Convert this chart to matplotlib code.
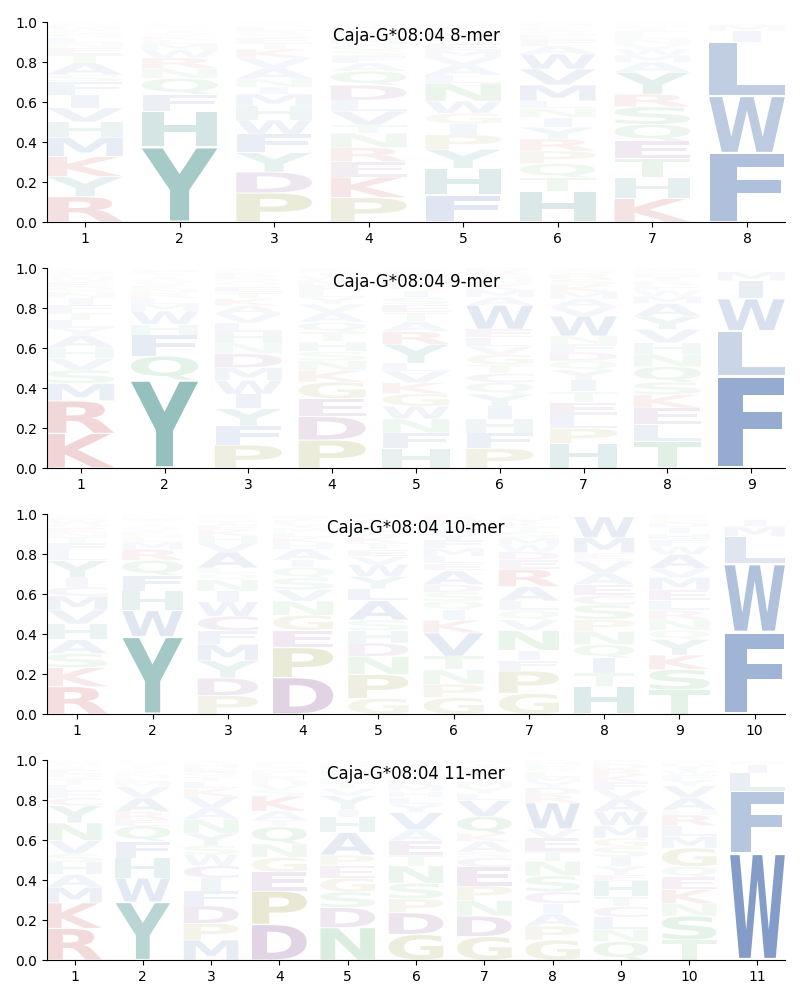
import matplotlib
matplotlib.use("Agg")
import matplotlib.pyplot as plt
from matplotlib.textpath import TextPath
from matplotlib.patches import PathPatch
from matplotlib.font_manager import FontProperties
from matplotlib.transforms import Affine2D

# ---------------- data (bottom -> top per position) ----------------
titles = ["Caja-G*08:04 8-mer", "Caja-G*08:04 9-mer",
          "Caja-G*08:04 10-mer", "Caja-G*08:04 11-mer"]

mer8_letters = [
    "RYKMHVIFSATENLQGWDPC",
    "YHFQNRWMLKVISTAEGPDC",
    "PDYFWHMINAVKTESRLGQC",
    "PKERNTVLDQAFSGHYMIWC",
    "FHYPIGWNLAVMESTQKDRC",
    "HTQPRYINLMVWAFESKGDC",
    "KHTEQSRYAMWVNLFIPGDC",
    "FWLIMYVACT",
]
mer8_values = [
    [.127, .10, .10, .097, .077, .07, .065, .065, .035, .06, .045, .03, .025, .025, .02, .015, .015, .012, .01, .007],
    [.375, .18, .083, .08, .05, .053, .04, .03, .02, .018, .015, .012, .01, .008, .007, .006, .005, .004, .002, .002],
    [.145, .105, .097, .093, .07, .07, .06, .035, .04, .055, .05, .045, .03, .025, .02, .015, .02, .01, .01, .005],
    [.122, .103, .077, .07, .072, .04, .07, .055, .075, .07, .04, .035, .03, .03, .03, .025, .02, .015, .012, .009],
    [.135, .133, .095, .073, .055, .053, .06, .09, .04, .05, .04, .035, .03, .025, .025, .02, .015, .012, .008, .006],
    [.155, .067, .07, .063, .06, .058, .05, .045, .037, .08, .08, .075, .04, .03, .025, .02, .015, .012, .01, .008],
    [.118, .105, .095, .087, .083, .088, .063, .11, .05, .035, .03, .025, .025, .02, .02, .015, .012, .008, .006, .005],
    [.345, .285, .27, .055, .03, .006, .004, .002, .002, .001],
]

mer9_letters = [
    "KRMSVHAYLTFINQEWGDPC",
    "YQFHWMLRNKVSITAEGDPC",
    "PFYIWMDNHLVAKTEQSRGC",
    "PDEGKNSHTQAVYLFMWIRC",
    "HFNWGKVLYRATESIQMDPC",
    "PFHIYQCTGVLEWAMKNSRD",
    "HPLETIYQDFNWVAMKSRGC",
    "TLEKSQNHVYAMWFRIDGPC",
    "FLWIMYVA",
]
mer9_values = [
    [.173, .163, .087, .067, .058, .053, .06, .04, .04, .035, .04, .035, .03, .025, .025, .02, .018, .012, .01, .009],
    [.44, .12, .105, .053, .067, .035, .03, .025, .02, .018, .015, .015, .012, .01, .01, .008, .006, .005, .004, .002],
    [.115, .095, .087, .072, .07, .063, .07, .053, .055, .047, .045, .04, .035, .03, .03, .025, .025, .018, .015, .01],
    [.14, .117, .09, .083, .057, .05, .045, .05, .047, .05, .05, .04, .035, .03, .03, .025, .02, .018, .015, .008],
    [.098, .078, .07, .063, .063, .055, .057, .04, .095, .063, .05, .045, .04, .035, .035, .03, .03, .025, .018, .01],
    [.098, .078, .07, .063, .06, .058, .045, .045, .05, .04, .045, .042, .12, .04, .035, .03, .025, .022, .02, .014],
    [.123, .075, .067, .063, .055, .057, .05, .045, .045, .04, .04, .10, .045, .04, .035, .035, .03, .025, .02, .01],
    [.135, .083, .082, .067, .062, .078, .062, .057, .067, .065, .065, .035, .03, .025, .02, .02, .015, .012, .012, .008],
    [.458, .228, .16, .09, .045, .008, .006, .003],
]

mer10_letters = [
    "RKSAHVMCIYLFTNEQWDGP",
    "YWHFQRMLNKVSITAEGDPC",
    "PDYMFCWINQLAVHKETSRG",
    "DPEGNVSQIAHKLMYFTRWC",
    "GPNDHSALYWVETKQFMIRC",
    "GPNTVKIQSDAELMFYWHRC",
    "GPFINVQLAREDWMSTKYHC",
    "HTIQNPSCEAVDFMWLYKGR",
    "TSKYQNRLEMVAWFHIDGPC",
    "FWLMIYV",
]
mer10_values = [
    [.137, .095, .07, .07, .078, .07, .07, .045, .045, .087, .047, .04, .03, .025, .022, .02, .018, .012, .01, .009],
    [.387, .13, .098, .078, .075, .055, .037, .02, .018, .015, .015, .012, .012, .01, .01, .008, .007, .005, .005, .003],
    [.092, .088, .087, .082, .067, .073, .072, .053, .058, .03, .028, .08, .045, .035, .03, .025, .02, .015, .012, .008],
    [.182, .15, .087, .075, .07, .058, .058, .053, .037, .055, .03, .028, .025, .022, .02, .018, .015, .01, .005, .002],
    [.078, .12, .09, .067, .062, .053, .097, .06, .06, .06, .04, .035, .035, .03, .03, .025, .022, .018, .012, .006],
    [.082, .067, .073, .067, .117, .063, .05, .045, .045, .038, .07, .035, .037, .04, .04, .035, .035, .03, .02, .011],
    [.103, .112, .053, .05, .10, .053, .047, .047, .072, .087, .047, .04, .035, .035, .03, .025, .02, .02, .015, .009],
    [.14, .066, .074, .066, .067, .059, .074, .047, .054, .058, .059, .017, .025, .075, .105, .005, .003, .003, .002, .001],
    [.12, .103, .072, .078, .045, .053, .047, .05, .053, .062, .045, .07, .04, .035, .03, .03, .025, .02, .015, .007],
    [.41, .34, .137, .053, .032, .008, .005],
]

mer11_letters = [
    "RKMAHSVNYCFLTQEIGWDP",
    "YWHFQERAVMLNKSTIGDPC",
    "MPDFICWSYNAVKLTQEHRG",
    "DPEGNQTAKSVHRLMYFWIC",
    "NDSGEPAHIYVTLQFKMRWC",
    "GDPSNTEAVYLHMKQFIRWC",
    "GDNPECSAKQVLYMTRFIHW",
    "GPAICSNTEVWRDYMLQFHK",
    "QNLCTHEYISGMWAVFKRDP",
    "TSNKEQGMLRHAVYFWIDPC",
    "WFLIMY",
]
mer11_values = [
    [.158, .128, .078, .063, .062, .042, .067, .087, .087, .038, .035, .03, .03, .025, .02, .015, .012, .01, .008, .005],
    [.29, .12, .10, .083, .078, .03, .04, .07, .055, .025, .02, .018, .015, .012, .01, .01, .008, .007, .005, .004],
    [.10, .083, .088, .075, .063, .063, .055, .045, .062, .07, .056, .057, .04, .035, .025, .025, .02, .018, .012, .008],
    [.178, .167, .095, .073, .067, .087, .033, .045, .075, .03, .025, .02, .02, .02, .018, .015, .012, .01, .007, .003],
    [.162, .10, .078, .07, .06, .055, .112, .078, .037, .07, .035, .03, .025, .02, .02, .015, .012, .01, .007, .004],
    [.128, .108, .07, .078, .087, .055, .07, .055, .087, .04, .035, .03, .03, .03, .025, .02, .018, .015, .01, .009],
    [.117, .103, .078, .072, .095, .045, .03, .053, .038, .087, .08, .035, .03, .03, .025, .025, .02, .015, .012, .01],
    [.10, .07, .063, .05, .058, .08, .072, .053, .063, .047, .13, .04, .035, .03, .025, .025, .02, .015, .014, .01],
    [.092, .062, .06, .053, .05, .078, .03, .045, .045, .05, .045, .062, .07, .063, .045, .04, .035, .03, .025, .02],
    [.10, .12, .062, .07, .062, .053, .093, .058, .053, .055, .025, .06, .06, .03, .025, .02, .02, .015, .012, .007],
    [.535, .31, .09, .04, .015, .006],
]

panel_letters = [mer8_letters, mer9_letters, mer10_letters, mer11_letters]
panel_values = [mer8_values, mer9_values, mer10_values, mer11_values]

# ---------------- style ----------------
group_colors = {
    "AVLIMFW": (76 / 255, 114 / 255, 176 / 255),
    "YH": (71 / 255, 145 / 255, 141 / 255),
    "KR": (196 / 255, 70 / 255, 75 / 255),
    "DEC": (128 / 255, 70 / 255, 140 / 255),
    "PG": (150 / 255, 150 / 255, 60 / 255),
    "NQST": (85 / 255, 170 / 255, 100 / 255),
}
color_of = {}
for grp, col in group_colors.items():
    for ch in grp:
        color_of[ch] = col

fp = FontProperties(family="DejaVu Sans", weight="bold")
_cache = {}


def glyph(ch):
    if ch not in _cache:
        _cache[ch] = TextPath((0, 0), ch, size=1, prop=fp)
    return _cache[ch]


E_WIDTH = glyph("E").get_extents().width
WIDTH = 0.8
VPAD = 0.04


def draw_letter(ax, ch, x, y0, h, color, alpha):
    p = glyph(ch)
    ext = p.get_extents()
    sx = min(WIDTH / ext.width, WIDTH / E_WIDTH)
    hh = h * (1 - VPAD)
    sy = hh / ext.height
    w = ext.width * sx
    tr = (Affine2D().translate(-ext.x0, -ext.y0).scale(sx, sy)
          .translate(x - w / 2, y0 + h * VPAD / 2))
    patch = PathPatch(tr.transform_path(p), facecolor=color, edgecolor="none",
                      alpha=alpha, zorder=2)
    ax.add_patch(patch)


fig = plt.figure(figsize=(8, 10), dpi=100)
left, width = 0.059, 0.922
bottoms = [0.778, 0.532, 0.286, 0.040]

for k in range(4):
    ax = fig.add_axes([left, bottoms[k], width, 0.2])
    letters = panel_letters[k]
    values = panel_values[k]
    n = len(letters)
    for i in range(n):
        x = i + 1
        y = 0.0
        for ch, v in zip(letters[i], values[i]):
            alpha = min(1.0, 1.29 * v)
            draw_letter(ax, ch, x, y, v, color_of[ch], alpha)
            y += v
    ax.set_xlim(0.6, n + 0.4)
    ax.set_ylim(0, 1)
    ax.set_xticks(range(1, n + 1))
    ax.set_yticks([0, 0.2, 0.4, 0.6, 0.8, 1.0])
    ax.set_yticklabels(["0.0", "0.2", "0.4", "0.6", "0.8", "1.0"])
    ax.spines["top"].set_visible(False)
    ax.spines["right"].set_visible(False)
    ax.text(0.5, 0.93, titles[k], transform=ax.transAxes, ha="center",
            va="center", fontsize=12, zorder=5)

fig.savefig("out.png", dpi=100)
